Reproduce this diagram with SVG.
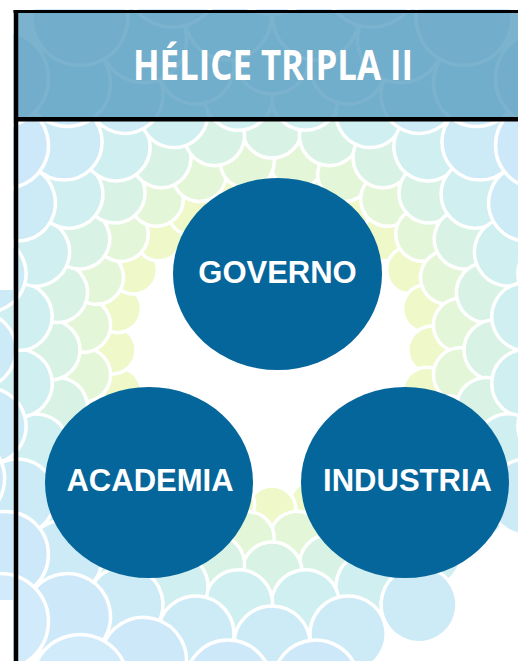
<svg xmlns="http://www.w3.org/2000/svg" xmlns:xlink="http://www.w3.org/1999/xlink" width="518" height="661" viewBox="0 0 518 661">
<style>
.cc{stroke:#ffffff;stroke-width:3.5}
.k1{fill:#eef8c8}.k2{fill:#e4f6d8}.k3{fill:#d8f3e6}.k4{fill:#d0eff0}.k5{fill:#cdebf6}.k6{fill:#cde9f9}.k7{fill:#d2ebfb}
.node ellipse{fill:#05669b}
.node text{fill:#ffffff;font-family:"Liberation Sans",Arial,sans-serif;font-weight:bold;font-size:31px;text-anchor:middle}
.title{fill:#ffffff;font-family:"Open Sans","Liberation Sans",sans-serif;font-weight:bold;font-size:42px;text-anchor:middle}
</style>
<defs>
<circle id="c1" class="cc k1" cx="272" cy="190" r="24"/>
<circle id="c2" class="cc k2" cx="296.8" cy="161.6" r="27"/>
<circle id="c3" class="cc k3" cx="272" cy="128" r="30"/>
<circle id="c4" class="cc k4" cx="305.4" cy="96.2" r="34"/>
<circle id="c5" class="cc k5" cx="272" cy="56" r="38"/>
<circle id="c6" class="cc k6" cx="315.85" cy="16.9" r="43"/>
<circle id="c7" class="cc k7" cx="272" cy="-34" r="48"/>
<g id="q1"><use xlink:href="#c1"/><use xlink:href="#c1" transform="rotate(15 272 350)"/><use xlink:href="#c1" transform="rotate(30 272 350)"/><use xlink:href="#c1" transform="rotate(45 272 350)"/><use xlink:href="#c1" transform="rotate(60 272 350)"/><use xlink:href="#c1" transform="rotate(75 272 350)"/></g>
<g id="q2"><use xlink:href="#c2"/><use xlink:href="#c2" transform="rotate(15 272 350)"/><use xlink:href="#c2" transform="rotate(30 272 350)"/><use xlink:href="#c2" transform="rotate(45 272 350)"/><use xlink:href="#c2" transform="rotate(60 272 350)"/><use xlink:href="#c2" transform="rotate(75 272 350)"/></g>
<g id="q3"><use xlink:href="#c3"/><use xlink:href="#c3" transform="rotate(15 272 350)"/><use xlink:href="#c3" transform="rotate(30 272 350)"/><use xlink:href="#c3" transform="rotate(45 272 350)"/><use xlink:href="#c3" transform="rotate(60 272 350)"/><use xlink:href="#c3" transform="rotate(75 272 350)"/></g>
<g id="q4"><use xlink:href="#c4"/><use xlink:href="#c4" transform="rotate(15 272 350)"/><use xlink:href="#c4" transform="rotate(30 272 350)"/><use xlink:href="#c4" transform="rotate(45 272 350)"/><use xlink:href="#c4" transform="rotate(60 272 350)"/><use xlink:href="#c4" transform="rotate(75 272 350)"/></g>
<g id="q5"><use xlink:href="#c5"/><use xlink:href="#c5" transform="rotate(15 272 350)"/><use xlink:href="#c5" transform="rotate(30 272 350)"/><use xlink:href="#c5" transform="rotate(45 272 350)"/><use xlink:href="#c5" transform="rotate(60 272 350)"/><use xlink:href="#c5" transform="rotate(75 272 350)"/></g>
<g id="q6"><use xlink:href="#c6"/><use xlink:href="#c6" transform="rotate(15 272 350)"/><use xlink:href="#c6" transform="rotate(30 272 350)"/><use xlink:href="#c6" transform="rotate(45 272 350)"/><use xlink:href="#c6" transform="rotate(60 272 350)"/><use xlink:href="#c6" transform="rotate(75 272 350)"/></g>
<g id="q7"><use xlink:href="#c7"/><use xlink:href="#c7" transform="rotate(15 272 350)"/><use xlink:href="#c7" transform="rotate(30 272 350)"/><use xlink:href="#c7" transform="rotate(45 272 350)"/><use xlink:href="#c7" transform="rotate(60 272 350)"/><use xlink:href="#c7" transform="rotate(75 272 350)"/></g>
</defs>
<rect x="0" y="0" width="518" height="661" fill="#ffffff"/>
<g id="background">
<use xlink:href="#q1"/><use xlink:href="#q1" transform="rotate(90 272 350)"/><use xlink:href="#q1" transform="rotate(180 272 350)"/><use xlink:href="#q1" transform="rotate(270 272 350)"/>
<use xlink:href="#q2"/><use xlink:href="#q2" transform="rotate(90 272 350)"/><use xlink:href="#q2" transform="rotate(180 272 350)"/><use xlink:href="#q2" transform="rotate(270 272 350)"/>
<use xlink:href="#q3"/><use xlink:href="#q3" transform="rotate(90 272 350)"/><use xlink:href="#q3" transform="rotate(180 272 350)"/><use xlink:href="#q3" transform="rotate(270 272 350)"/>
<use xlink:href="#q4"/><use xlink:href="#q4" transform="rotate(90 272 350)"/><use xlink:href="#q4" transform="rotate(180 272 350)"/><use xlink:href="#q4" transform="rotate(270 272 350)"/>
<use xlink:href="#q5"/><use xlink:href="#c5" transform="rotate(90 272 350)"/><use xlink:href="#c5" transform="rotate(105 272 350)"/><use xlink:href="#c5" transform="rotate(120 272 350)"/><use xlink:href="#c5" transform="rotate(150 272 350)"/><use xlink:href="#c5" transform="rotate(165 272 350)"/><use xlink:href="#q5" transform="rotate(180 272 350)"/><use xlink:href="#q5" transform="rotate(270 272 350)"/>
<use xlink:href="#q6"/><use xlink:href="#c6" transform="rotate(165 272 350)"/><use xlink:href="#q6" transform="rotate(180 272 350)"/><use xlink:href="#q6" transform="rotate(270 272 350)"/>
<use xlink:href="#q7"/><use xlink:href="#q7" transform="rotate(180 272 350)"/><use xlink:href="#q7" transform="rotate(270 272 350)"/>
</g>
<rect x="0" y="0" width="13" height="290" fill="#ffffff"/>
<rect x="0" y="600" width="13" height="61" fill="#ffffff"/>
<rect x="0" y="0" width="518" height="9" fill="#ffffff"/>
<g id="header">
<rect x="16" y="13" width="502" height="104" fill="#5a9fc0" fill-opacity="0.8"/>
<text class="title" x="273" y="80" textLength="280" lengthAdjust="spacingAndGlyphs">HÉLICE TRIPLA II</text>
</g>
<g id="frame" stroke="#000000" fill="none">
<line x1="13.5" y1="11.5" x2="518" y2="11.5" stroke-width="3"/>
<line x1="16" y1="10" x2="16" y2="661" stroke-width="4.5"/>
<line x1="14" y1="119.2" x2="518" y2="119.2" stroke-width="4.5"/>
</g>
<g id="connectors"></g>
<g id="governo" class="node">
<ellipse cx="277.5" cy="274" rx="104.5" ry="96"/>
<text x="277.5" y="283">GOVERNO</text>
</g>
<g id="academia" class="node">
<ellipse cx="149" cy="482.5" rx="104" ry="95.5"/>
<text x="150" y="491">ACADEMIA</text>
</g>
<g id="industria" class="node">
<ellipse cx="405" cy="482.5" rx="104" ry="95.5"/>
<text x="407.5" y="491">INDUSTRIA</text>
</g>
</svg>
